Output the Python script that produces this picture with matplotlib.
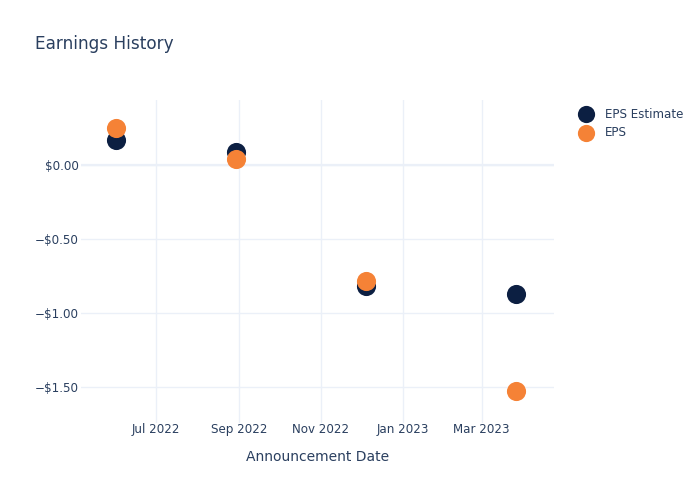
import pandas as pd
import matplotlib
matplotlib.use("Agg")
import matplotlib.pyplot as plt
import matplotlib.dates as mdates
from matplotlib.ticker import FuncFormatter

# values
dates = pd.to_datetime(["2022-06-01", "2022-08-30", "2022-12-05", "2023-03-27"])
eps_estimate = [0.17, 0.09, -0.82, -0.87]
eps_actual = [0.25, 0.04, -0.78, -1.53]

text_color = "#2a3f5f"
grid_color = "#ebf0f8"

fig = plt.figure(figsize=(7, 5), dpi=100)
ax = fig.add_axes([0.1157, 0.154, 0.6757, 0.646])

ax.scatter(dates, eps_estimate, s=190, color="#0c1f42", label="EPS Estimate", zorder=3, linewidths=0)
ax.scatter(dates, eps_actual, s=190, color="#f58236", label="EPS", zorder=4, linewidths=0)

ax.set_xlim(pd.Timestamp("2022-05-06"), pd.Timestamp("2023-04-24"))
ax.set_ylim(-1.743, 0.44)

ax.xaxis.set_major_locator(mdates.MonthLocator(bymonth=[1, 3, 5, 7, 9, 11]))
ax.xaxis.set_major_formatter(mdates.DateFormatter("%b %Y"))
ax.set_yticks([0, -0.5, -1.0, -1.5])

def money(v, pos):
    s = "${:.2f}".format(abs(v))
    return "\u2212" + s if v < -1e-9 else s

ax.yaxis.set_major_formatter(FuncFormatter(money))

ax.grid(True, color=grid_color, linewidth=1, zorder=0)
ax.axhline(0, color=grid_color, linewidth=1.6, zorder=1)
for sp in ax.spines.values():
    sp.set_visible(False)
ax.tick_params(length=0, colors=text_color, labelsize=8.6, pad=1.5)
ax.tick_params(axis="x", pad=0)

ax.set_xlabel("Announcement Date", color=text_color, fontsize=10, labelpad=10)

fig.text(0.05, 0.912, "Earnings History", color=text_color, fontsize=12.2, va="center")

leg = ax.legend(loc="upper left", bbox_to_anchor=(1.02, 1.01), frameon=False,
                fontsize=8.6, labelcolor=text_color, markerscale=0.9,
                handletextpad=0.6, labelspacing=0.45)

fig.savefig("out.png", dpi=100)
